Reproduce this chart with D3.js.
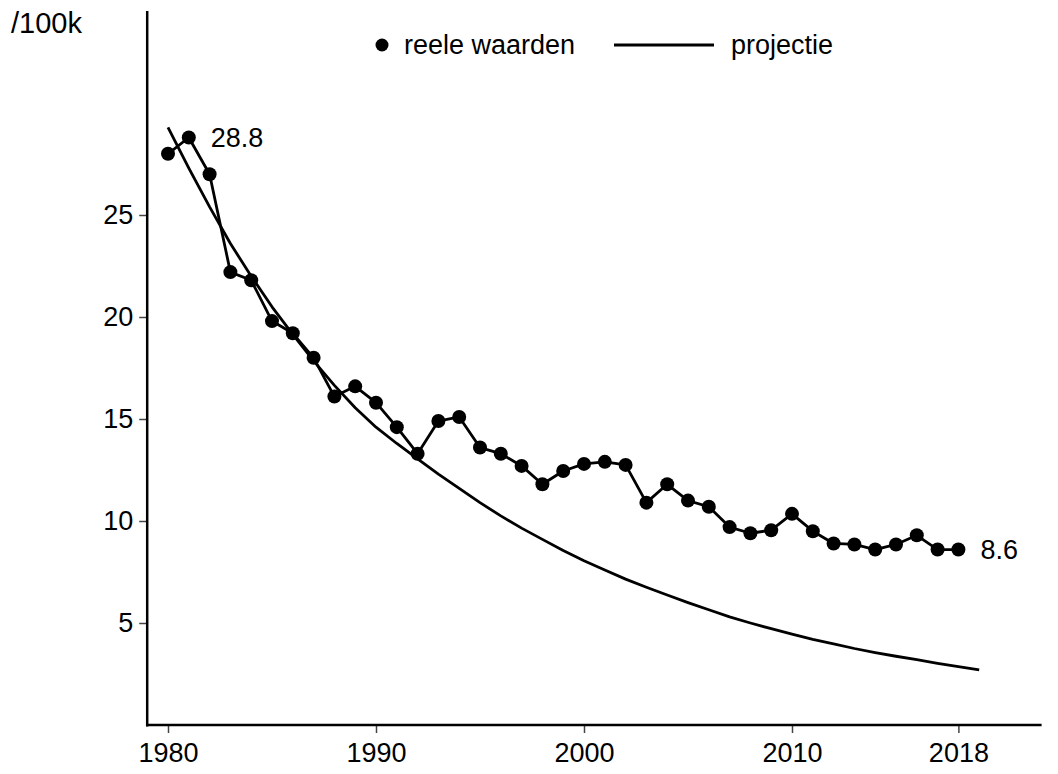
<!DOCTYPE html>
<html>
<head>
<meta charset="utf-8">
<script src="https://cdn.jsdelivr.net/npm/d3@7"></script>
<style>
  html, body { margin: 0; padding: 0; background: #fff; }
  svg { display: block; }
  text { font-family: "Liberation Sans", Arial, Helvetica, sans-serif; fill: #000; }
</style>
</head>
<body>
<svg id="chart" width="1058" height="774"></svg>
<script>
// ---- data ----
const years = [1980,1981,1982,1983,1984,1985,1986,1987,1988,1989,
               1990,1991,1992,1993,1994,1995,1996,1997,1998,1999,
               2000,2001,2002,2003,2004,2005,2006,2007,2008,2009,
               2010,2011,2012,2013,2014,2015,2016,2017,2018];
const actual = [28.0,28.8,27.0,22.2,21.8,19.8,19.2,18.0,16.1,16.6,
                15.8,14.6,13.3,14.9,15.1,13.6,13.3,12.7,11.8,12.45,
                12.8,12.9,12.75,10.9,11.8,11.0,10.7,9.7,9.4,9.55,
                10.35,9.5,8.9,8.85,8.6,8.85,9.3,8.6,8.6];
const projYears = [1980,1981,1982,1983,1984,1985,1986,1987,1988,1989,
                   1990,1991,1992,1993,1994,1995,1996,1997,1998,1999,
                   2000,2001,2002,2003,2004,2005,2006,2007,2008,2009,
                   2010,2011,2012,2013,2014,2015,2016,2017,2018,2019];
const projection = [29.3,27.3,25.4,23.6,22.0,20.5,19.15,17.85,16.65,15.55,
                    14.6,13.8,13.05,12.3,11.6,10.9,10.25,9.65,9.1,8.55,
                    8.05,7.6,7.15,6.75,6.37,6.0,5.65,5.3,5.0,4.72,
                    4.45,4.2,3.98,3.75,3.55,3.37,3.2,3.02,2.86,2.7];
const xTicks = [1980, 1990, 2000, 2010, 2018];
const yTicks = [5, 10, 15, 20, 25];
const yUnit = "/100k";
const legendLabels = ["reele waarden", "projectie"];
const firstLabel = "28.8";
const lastLabel = "8.6";

// ---- scales ----
const svg = d3.select("#chart");
const x = d3.scaleLinear().domain([1979, 2022]).range([147.2, 1041.6]);
const y = d3.scaleLinear().domain([0, 35]).range([725, 11]);
const FS = 27;
const LW = 2.8;

// ---- axes ----
const yAxis = svg.append("g").attr("transform", `translate(${x(1979)},0)`)
  .call(d3.axisLeft(y).tickValues(yTicks).tickSize(8).tickPadding(6).tickFormat(d3.format("d")));
const xAxis = svg.append("g").attr("transform", `translate(0,${y(0)})`)
  .call(d3.axisBottom(x).tickValues(xTicks).tickSize(8).tickPadding(10).tickFormat(d3.format("d")));
[yAxis, xAxis].forEach(g => {
  g.select(".domain").remove();
  g.selectAll(".tick line").attr("stroke", "#444").attr("stroke-width", 1.5);
  g.selectAll(".tick text").style("font-size", FS + "px")
    .style("font-family", "'Liberation Sans', Arial, sans-serif").attr("fill", "#000");
});
// axis lines
svg.append("line").attr("x1", x(1979)).attr("x2", x(1979))
  .attr("y1", y(35)).attr("y2", y(0) + 1.5)
  .attr("stroke", "#000").attr("stroke-width", 2.5);
svg.append("line").attr("x1", x(1979) - 1.2).attr("x2", x(2022))
  .attr("y1", y(0)).attr("y2", y(0))
  .attr("stroke", "#000").attr("stroke-width", 2.5);

svg.append("text").attr("x", 11).attr("y", 33).style("font-size", "29px").text(yUnit);

// ---- projection ----
const projData = projYears.map((d, i) => ({ t: d, v: projection[i] }));
svg.append("path").datum(projData)
  .attr("fill", "none").attr("stroke", "#000").attr("stroke-width", LW)
  .attr("stroke-linejoin", "round")
  .attr("d", d3.line().x(d => x(d.t)).y(d => y(d.v)));

// ---- actual ----
const actData = years.map((d, i) => ({ t: d, v: actual[i] }));
svg.append("path").datum(actData)
  .attr("fill", "none").attr("stroke", "#000").attr("stroke-width", LW)
  .attr("stroke-linejoin", "round")
  .attr("d", d3.line().x(d => x(d.t)).y(d => y(d.v)));
svg.selectAll("circle.pt").data(actData).enter().append("circle")
  .attr("class", "pt").attr("cx", d => x(d.t)).attr("cy", d => y(d.v))
  .attr("r", 7).attr("fill", "#000");

// value labels
svg.append("text").attr("x", x(1981) + 22).attr("y", y(actual[1]))
  .attr("dy", "0.35em").style("font-size", FS + "px").text(firstLabel);
svg.append("text").attr("x", x(2018) + 22).attr("y", y(actual[actual.length - 1]))
  .attr("dy", "0.35em").style("font-size", FS + "px").text(lastLabel);

// ---- legend ----
const lg = svg.append("g");
lg.append("circle").attr("cx", 382).attr("cy", 45).attr("r", 6.5).attr("fill", "#000");
lg.append("text").attr("x", 404).attr("y", 45).attr("dy", "0.35em")
  .style("font-size", FS + "px").text(legendLabels[0]);
lg.append("line").attr("x1", 614).attr("x2", 714).attr("y1", 45).attr("y2", 45)
  .attr("stroke", "#000").attr("stroke-width", LW);
lg.append("text").attr("x", 731).attr("y", 45).attr("dy", "0.35em")
  .style("font-size", FS + "px").text(legendLabels[1]);
</script>
</body>
</html>
